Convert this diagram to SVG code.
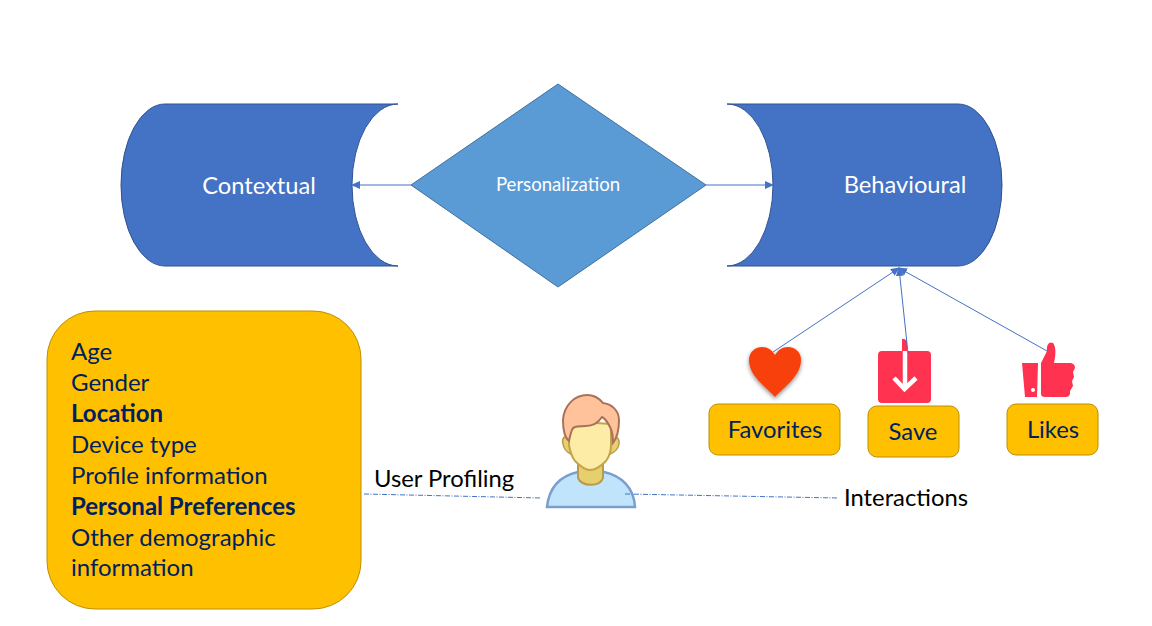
<svg xmlns="http://www.w3.org/2000/svg" width="1152" height="626" viewBox="0 0 1152 626">
<style>
text{font-family:Lato,"Open Sans","Liberation Sans",sans-serif}
.cyl{fill:#4472c4;stroke:#2f528f;stroke-width:1}
.box{fill:#ffc000;stroke:#bc8f00;stroke-width:1}
.lbl{font-size:23.8px;fill:#002060;text-anchor:middle}
.list{font-size:24px;fill:#002060}
.b{font-weight:700}
.w{fill:#fff;text-anchor:middle}
.k{font-size:23.8px;fill:#000}
.c{fill:none;stroke:#4472c4;stroke-width:1}
.d{fill:none;stroke:#4472c4;stroke-width:1;stroke-dasharray:5 1.5 1 1.5}
</style>
<defs>
<marker id="a" markerUnits="userSpaceOnUse" markerWidth="9" markerHeight="8" refX="8" refY="4" orient="auto"><path d="M0 0L9 4L0 8Z" fill="#4472c4"/></marker>
<filter id="s" x="-20%" y="-20%" width="140%" height="140%"><feDropShadow dx="0" dy="2" stdDeviation="2" flood-color="#000" flood-opacity=".45"/></filter>
</defs>
<g id="contextual">
<path class="cyl" d="M398 104H165A44 81 0 0 0 165 266H398A46 81 0 0 1 398 104Z"/>
<text class="w" x="259" y="194" font-size="23.7">Contextual</text>
</g>
<g id="behavioural">
<path class="cyl" d="M727 104H958A44 81 0 0 1 958 266H727A46 81 0 0 0 727 104Z"/>
<text class="w" x="905" y="193" font-size="23.7">Behavioural</text>
</g>
<g id="personalization">
<path d="M558 84L706 185L558 287L411 185Z" fill="#5b9bd5" stroke="#41719c" stroke-width="1"/>
<text class="w" x="558" y="191" font-size="18.6">Personalization</text>
</g>
<g id="attributes">
<rect class="box" x="47" y="311" width="314" height="298" rx="48"/>
<text class="list" x="71" y="360">Age</text>
<text class="list" x="71" y="391">Gender</text>
<text class="list b" x="71" y="422">Location</text>
<text class="list" x="71" y="453">Device type</text>
<text class="list" x="71" y="484">Profile information</text>
<text class="list b" x="71" y="515">Personal Preferences</text>
<text class="list" x="71" y="546">Other demographic</text>
<text class="list" x="71" y="576">information</text>
</g>
<g id="favorites">
<path d="M775 397C766 387 749 376 749 360C749 351 756 347 762 347C768 347 772 350 775 355C778 350 782 347 788 347C794 347 801 351 801 360C801 376 784 387 775 397Z" fill="#f8400c" filter="url(#s)"/>
<rect class="box" x="709" y="404" width="131" height="51" rx="9"/>
<text class="lbl" x="775" y="438">Favorites</text>
</g>
<g id="save">
<path d="M902 339Q904 338 907 341V351H927Q931 351 931 355V399Q931 403 927 403H882Q878 403 878 399V355Q878 351 882 351H902Z" fill="#ff334f"/>
<path d="M905 351V388M894 378L904.500 389L916 378" fill="none" stroke="#fff" stroke-width="4.500"/>
<rect class="box" x="868" y="406" width="91" height="51" rx="9"/>
<text class="lbl" x="913" y="440">Save</text>
</g>
<g id="likes">
<path d="M1022 363H1038L1037 397H1025Z" fill="#ff334f"/>
<circle cx="1033" cy="390" r="2" fill="#fff"/>
<path d="M1041 363L1047 351C1046 344 1050 341 1053 343C1056 346 1056 355 1054 363H1071Q1075 364 1075 368L1073 372L1074 377L1072 381L1073 386L1070 391L1070 394Q1069 397 1066 397H1045Q1041 397 1041 394Z" fill="#ff334f"/>
<rect class="box" x="1007" y="404" width="91" height="51" rx="9"/>
<text class="lbl" x="1053" y="438">Likes</text>
</g>
<g id="user">
<path d="M569 436Q561 436 563 444Q564 451 571 454ZM611 436Q620 436 619 444Q618 451 610 454Z" fill="#e8cf70" stroke="#b89b4a" stroke-width="1.500"/>
<path d="M547 507C549 488 560 476 578 472H604C622 476 634 488 635 507Z" fill="#bfe4fb" stroke="#7a9fcf" stroke-width="2.500"/>
<path d="M578 460V478C582 487 600 487 603 478V460Z" fill="#e6d06e" stroke="#b89b4a" stroke-width="2"/>
<path d="M569 432V445C570 452 572 457 575 461C580 466 586 470 590 470C595 470 601 466 606 461C609 457 611 452 611 445V424L580 422Z" fill="#fdeca6" stroke="#c4a34a" stroke-width="2"/>
<path d="M569 441C565 438 563 432 563 420C564 405 575 395 587 395C595 395 599 398 603 403C611 404 619 410 619 420C619 430 617 438 613 443C613 436 612 431 610 427C608 423 606 419 602 417C598 423 592 426 586 426C580 426 575 426 573 428C571 431 570 436 569 441Z" fill="#ffc29b" stroke="#a97257" stroke-width="2"/>
</g>
<g id="labels">
<text class="k" x="374" y="487">User Profiling</text>
<text class="k" x="844" y="506">Interactions</text>
</g>
<g id="connectors">
<path class="c" d="M411 185H352" marker-end="url(#a)"/>
<path class="c" d="M706 185H773" marker-end="url(#a)"/>
<path class="c" d="M773 352L899 268" marker-end="url(#a)"/>
<path class="c" d="M908 353L899 268" marker-end="url(#a)"/>
<path class="c" d="M1047 351L899 268" marker-end="url(#a)"/>
<path class="d" d="M364 494L541 498"/>
<path class="d" d="M625 494L838 498"/>
</g>
</svg>
